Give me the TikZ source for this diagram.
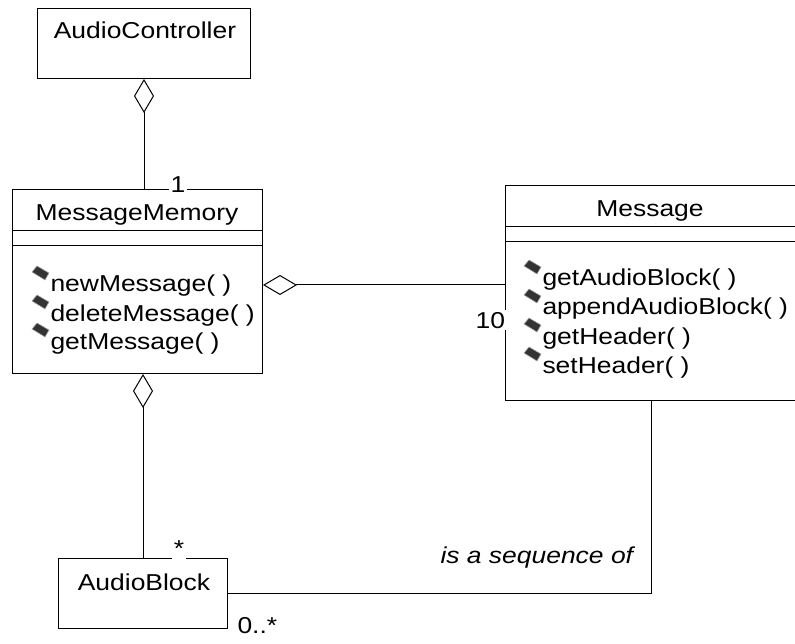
\documentclass[tikz,border=0pt]{standalone}
\usepackage{fontspec}
\setmainfont{Liberation Sans}[FakeStretch=1.15]
\usetikzlibrary{arrows.meta}
\begin{document}
\begin{tikzpicture}[x=1pt,y=-1pt,line width=1pt,
  cls/.style={draw,rectangle,inner sep=0pt,anchor=north west},
  txt/.style={font=\fontsize{23}{28}\selectfont,inner sep=0pt},
  mult/.style={txt,fill=white,inner xsep=1.5pt,inner ysep=2pt},
  agg/.style={-{Diamond[open,length=34pt,width=20pt]}},
  opicon/.pic={\filldraw[fill=gray!40!black,draw=gray!70,line width=0.6pt,line join=round] (5,0)--(17,7)--(13,14)--(0,6)--cycle;}]
\useasboundingbox (0,0) rectangle (795,644);

% classes
\node[cls,minimum width=213pt,minimum height=70pt] (ac) at (37,8) {};
\node[txt,anchor=base] (acname) at (145,39) {AudioController};

\node[cls,minimum width=250pt,minimum height=184pt] (mm) at (12,189) {};
\node[txt,anchor=base] (mmname) at (137,221) {MessageMemory};
\draw (12,231) -- (262,231);
\draw (12,246) -- (262,246);
\pic at (32,266) {opicon};
\node[txt,anchor=base west] (op1) at (50,292) {newMessage( )};
\pic at (32,295) {opicon};
\node[txt,anchor=base west] (op2) at (50,321) {deleteMessage( )};
\pic at (32,323) {opicon};
\node[txt,anchor=base west] (op3) at (50,349) {getMessage( )};

\node[cls,minimum width=291pt,minimum height=215pt] (msg) at (505,185) {};
\node[txt,anchor=base] (msgname) at (650,217) {Message};
\draw (505,227) -- (796,227);
\draw (505,242) -- (796,242);
\pic at (524,260) {opicon};
\node[txt,anchor=base west] (op4) at (542,286) {getAudioBlock( )};
\pic at (524,289) {opicon};
\node[txt,anchor=base west] (op5) at (542,315) {appendAudioBlock( )};
\pic at (524,318) {opicon};
\node[txt,anchor=base west] (op6) at (542,344) {getHeader( )};
\pic at (524,347) {opicon};
\node[txt,anchor=base west] (op7) at (542,373) {setHeader( )};

\node[cls,minimum width=169pt,minimum height=70pt] (ab) at (58,558) {};
\node[txt,anchor=base] (abname) at (144,590) {AudioBlock};

% connectors
\coordinate (hy) at (0,285);
\draw[agg] (mm.north -| ac.south) -- (ac.south);
\draw[agg] (msg.west |- hy) -- (mm.east |- hy);
\draw[agg] (ab.north) -- (mm.south -| ab.north);
\draw (msg.south) -- (msg.south |- ab.east) -- (ab.east);

% labels
\node[mult,anchor=base] (m1) at (178,193) {1};
\node[mult,anchor=base,inner ysep=3pt] (m2) at (179,556) {*};
\node[mult,anchor=base east] (m3) at (507,328) {10};
\node[txt,anchor=base west] (m4) at (237,633) {0..*};
\node[txt,anchor=base west] (rel) at (440,563) {\itshape is a sequence of};
\end{tikzpicture}
\end{document}
